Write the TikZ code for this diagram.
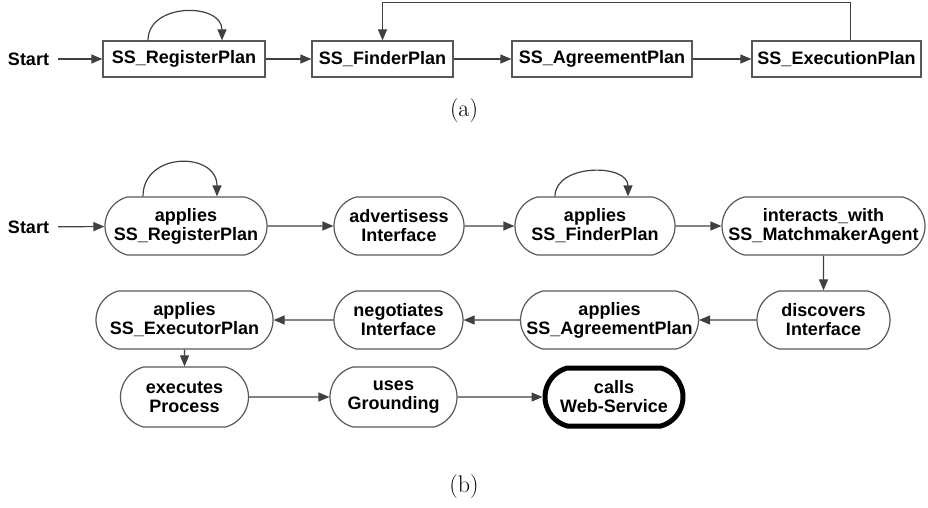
\documentclass[tikz,border=0pt]{standalone}
\usepackage{fontspec}
\setmainfont{Liberation Sans}
\newfontfamily\capfont{Latin Modern Roman}
\usetikzlibrary{arrows.meta,shapes.misc}
\begin{document}
\begin{tikzpicture}[x=1pt,y=-1pt,
  lbl/.style={font=\bfseries\fontsize{18}{19}\selectfont, align=center, inner sep=0pt},
  plan/.style={lbl, draw=black!65, line width=1.2pt, fill=white, minimum height=36pt},
  state/.style={lbl, rounded rectangle, rounded rectangle arc length=150, draw=black!65, line width=1.2pt, fill=white, minimum height=58pt},
  final/.style={state, draw=black, line width=5pt, minimum height=58pt},
  startlbl/.style={lbl, inner xsep=9pt},
  flow/.style={draw=black!75, line width=1.2pt, -{Triangle[length=11pt,width=9pt]}},
  caption/.style={font=\capfont\fontsize{24}{26}\selectfont}
]
\useasboundingbox (0,0) rectangle (928,508);

% ---- (a) plan sequence ----
\node[startlbl] (sa) at (28.5,59) {Start};
\node[plan, minimum width=162pt] (reg) at (184,59) {SS\_RegisterPlan};
\node[plan, minimum width=141pt] (find) at (382.5,59) {SS\_FinderPlan};
\node[plan, minimum width=180pt] (agr) at (602,59) {SS\_AgreementPlan};
\node[plan, minimum width=169pt] (exe) at (836.5,59) {SS\_ExecutionPlan};

\draw[flow] (sa) -- (reg);
\draw[flow] (reg) -- (find);
\draw[flow] (find) -- (agr);
\draw[flow] (agr) -- (exe);
\draw[flow] ([xshift=-36pt]reg.north) .. controls +(0,-38) and +(0,-38) .. ([xshift=38pt]reg.north);
\draw[flow] ([xshift=14pt]exe.north) -- ++(0,-38) -| (find.north);

\node[caption] (capa) at (464,111) {(a)};

% ---- (b) state sequence ----
\node[startlbl] (sb) at (28.5,227) {Start};
\node[state, minimum width=162pt] (n1) at (186,226) {applies\\SS\_RegisterPlan};
\node[state, minimum width=130pt] (n2) at (399,226) {advertisess\\Interface};
\node[state, minimum width=160pt] (n3) at (595,226) {applies\\SS\_FinderPlan};
\node[state, minimum width=203pt] (n4) at (823.5,226) {interacts\_with\\SS\_MatchmakerAgent};
\node[state, minimum width=133pt] (n5) at (823.5,320) {discovers\\Interface};
\node[state, minimum width=175pt] (n6) at (609.5,320) {applies\\SS\_AgreementPlan};
\node[state, minimum width=129pt] (n7) at (398.5,320) {negotiates\\Interface};
\node[state, minimum width=177pt] (n8) at (184.5,320) {applies\\SS\_ExecutorPlan};
\node[state, minimum width=128pt, minimum height=60pt] (n9) at (184.5,397) {executes\\Process};
\node[state, minimum width=127pt, minimum height=60pt] (n10) at (393.5,397) {uses\\Grounding};
\node[final, minimum width=138pt] (n11) at (614,397) {calls\\Web-Service};

\draw[flow] (sb) -- (n1);
\draw[flow] (n1) -- (n2);
\draw[flow] (n2) -- (n3);
\draw[flow] (n3) -- (n4);
\draw[flow] (n4) -- (n5);
\draw[flow] (n5) -- (n6);
\draw[flow] (n6) -- (n7);
\draw[flow] (n7) -- (n8);
\draw[flow] (n8) -- (n9);
\draw[flow] (n9) -- (n10);
\draw[flow] (n10) -- (n11);
\draw[flow] ([xshift=-43pt]n1.north) .. controls +(0,-45) and +(0,-45) .. ([xshift=31pt]n1.north);
\draw[flow] ([xshift=-40pt]n3.north) .. controls +(0,-33) and +(0,-33) .. ([xshift=33pt]n3.north);

\node[caption] (capb) at (464,487) {(b)};
\end{tikzpicture}
\end{document}
